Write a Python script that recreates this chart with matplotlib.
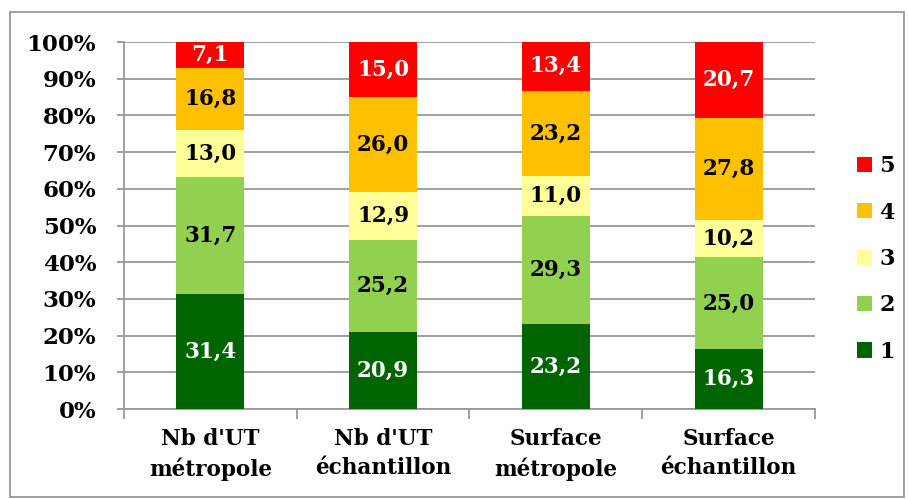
import matplotlib
matplotlib.use("Agg")
import matplotlib.pyplot as plt
from matplotlib.patches import Rectangle, Patch

categories = ["Nb d'UT\nmétropole", "Nb d'UT\néchantillon", "Surface\nmétropole", "Surface\néchantillon"]
series_names = ["1", "2", "3", "4", "5"]
s1 = [31.4, 20.9, 23.2, 16.3]
s2 = [31.7, 25.2, 29.3, 25.0]
s3 = [13.0, 12.9, 11.0, 10.2]
s4 = [16.8, 26.0, 23.2, 27.8]
s5 = [7.1, 15.0, 13.4, 20.7]
series = [s1, s2, s3, s4, s5]
colors = ["#006400", "#92D050", "#FFFF99", "#FFC000", "#FF0000"]
text_colors = ["white", "black", "black", "black", "white"]
yticklabels = ["0%", "10%", "20%", "30%", "40%", "50%", "60%", "70%", "80%", "90%", "100%"]

plt.rcParams['font.family'] = ['DejaVu Serif']
plt.rcParams['font.weight'] = 'bold'

fig = plt.figure(figsize=(9.08, 4.99), dpi=100)
ax = fig.add_axes([124/908, 1-409/499, (815-124)/908, (409-42)/499])

x = list(range(len(categories)))
bottoms = [0.0]*len(categories)
for vals, c, tc in zip(series, colors, text_colors):
    ax.bar(x, vals, bottom=bottoms, width=0.395, color=c, zorder=3)
    for i, v in enumerate(vals):
        ax.text(i, bottoms[i] + v/2, f"{v:.1f}".replace(".", ","), ha="center", va="center",
                color=tc, fontsize=15.5, fontweight="bold", zorder=4)
    bottoms = [b + v for b, v in zip(bottoms, vals)]

ax.set_xlim(-0.5, len(categories)-0.5)
ax.set_ylim(0, 100)
ax.set_yticks(range(0, 101, 10))
ax.set_yticklabels(yticklabels, fontsize=16.5, fontweight="bold")
ax.yaxis.grid(True, color="#999999", linewidth=1.3, zorder=0)
ax.tick_params(axis="y", length=5, color="#999999", width=1.3, pad=15)
ax.set_xticks([i-0.5 for i in range(len(categories)+1)], minor=False)
ax.set_xticklabels([""]*(len(categories)+1))
ax.set_xticks(x, minor=True)
ax.set_xticklabels(categories, minor=True, fontsize=15.5, fontweight="bold", linespacing=1.4)
ax.tick_params(axis="x", which="major", length=7, color="#999999", width=1.3)
ax.tick_params(axis="x", which="minor", length=0, pad=14)
for s in ["top", "right"]:
    ax.spines[s].set_visible(False)
for s in ["left", "bottom"]:
    ax.spines[s].set_color("#999999")
    ax.spines[s].set_linewidth(1.3)

handles = [Patch(facecolor=c, edgecolor="none") for c in colors][::-1]
leg = fig.legend(handles, series_names[::-1], loc="center left", bbox_to_anchor=(841/908, 1-259/499),
                 frameon=False, handlelength=0.68, handleheight=0.68,
                 labelspacing=1.1, handletextpad=0.35, borderpad=0.2,
                 prop={"weight": "bold", "size": 16})

fig.patches.append(Rectangle((10/908, 2/499), 894/908, 485/499, transform=fig.transFigure,
                             fill=False, edgecolor="#999999", linewidth=1.3))

fig.savefig("out.png", dpi=100)
